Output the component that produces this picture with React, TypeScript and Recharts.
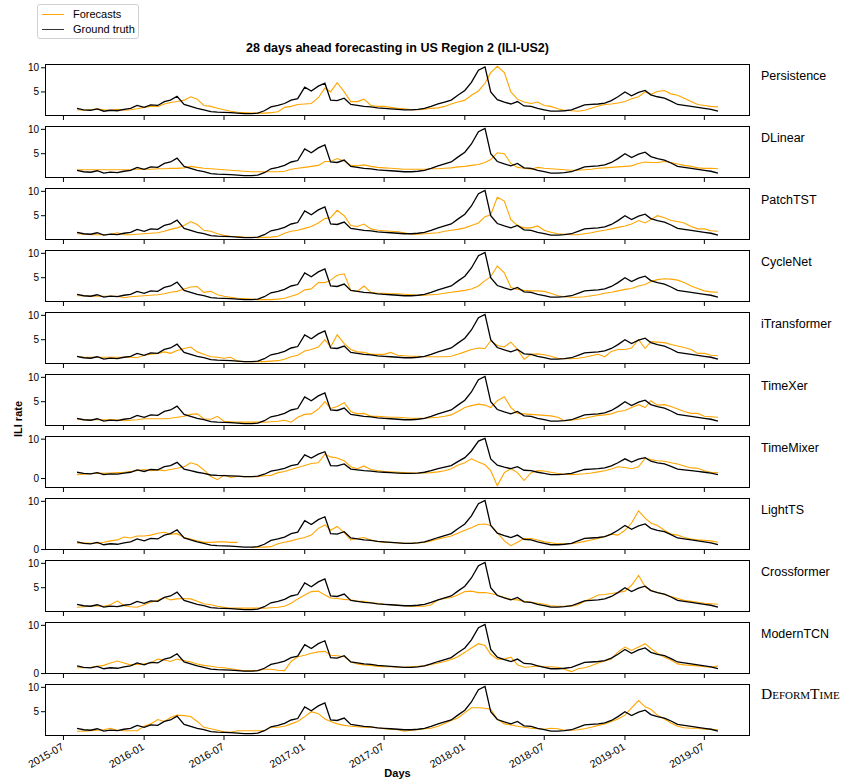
import { LineChart, Line, XAxis, YAxis } from 'recharts';

// semi-monthly sampling dates
const dates = [
  '2015-08-01', '2015-08-16', '2015-09-01', '2015-09-16', '2015-10-01', '2015-10-16', '2015-11-01', '2015-11-16', '2015-12-01', '2015-12-16',
  '2016-01-01', '2016-01-16', '2016-02-01', '2016-02-16', '2016-03-01', '2016-03-16', '2016-04-01', '2016-04-16', '2016-05-01', '2016-05-16',
  '2016-06-01', '2016-06-16', '2016-07-01', '2016-07-16', '2016-08-01', '2016-08-16', '2016-09-01', '2016-09-16', '2016-10-01', '2016-10-16',
  '2016-11-01', '2016-11-16', '2016-12-01', '2016-12-16', '2017-01-01', '2017-01-16', '2017-02-01', '2017-02-16', '2017-03-01', '2017-03-16',
  '2017-04-01', '2017-04-16', '2017-05-01', '2017-05-16', '2017-06-01', '2017-06-16', '2017-07-01', '2017-07-16', '2017-08-01', '2017-08-16',
  '2017-09-01', '2017-09-16', '2017-10-01', '2017-10-16', '2017-11-01', '2017-11-16', '2017-12-01', '2017-12-16', '2018-01-01', '2018-01-16',
  '2018-02-01', '2018-02-16', '2018-03-01', '2018-03-16', '2018-04-01', '2018-04-16', '2018-05-01', '2018-05-16', '2018-06-01', '2018-06-16',
  '2018-07-01', '2018-07-16', '2018-08-01', '2018-08-16', '2018-09-01', '2018-09-16', '2018-10-01', '2018-10-16', '2018-11-01', '2018-11-16',
  '2018-12-01', '2018-12-16', '2019-01-01', '2019-01-16', '2019-02-01', '2019-02-16', '2019-03-01', '2019-03-16', '2019-04-01', '2019-04-16',
  '2019-05-01', '2019-05-16', '2019-06-01', '2019-06-16', '2019-07-01', '2019-07-16', '2019-08-01',
];

const groundTruth = [
  1.6, 1.3, 1.2, 1.5, 1.0, 1.2, 1.1, 1.4, 1.6, 2.2,
  1.8, 2.3, 2.2, 3.0, 3.3, 4.1, 2.4, 2.0, 1.6, 1.3,
  0.9, 0.8, 0.75, 0.7, 0.6, 0.5, 0.5, 0.6, 1.1, 1.9,
  2.2, 2.6, 3.3, 3.6, 6.0, 5.2, 6.2, 6.8, 3.3, 3.2,
  3.7, 2.4, 2.2, 2.0, 1.9, 1.7, 1.6, 1.5, 1.4, 1.3,
  1.3, 1.4, 1.6, 2.0, 2.5, 2.9, 3.3, 4.3, 5.3, 7.0,
  9.5, 10.2, 5.0, 3.4, 2.9, 2.5, 3.0, 2.1, 2.0, 1.6,
  1.3, 1.0, 1.0, 1.1, 1.3, 1.8, 2.3, 2.4, 2.5, 2.7,
  3.2, 4.0, 5.0, 4.2, 4.9, 5.3, 4.4, 4.0, 3.7, 3.1,
  2.4, 2.2, 2.0, 1.8, 1.6, 1.4, 1.0,
];

const persistence = [
  1.3, 1.2, 1.3, 1.5, 1.3, 1.2, 1.4, 1.2, 1.3, 1.5,
  1.8, 2.0, 2.0, 2.5, 2.8, 3.0, 3.3, 4.0, 3.5, 2.2,
  2.0, 1.6, 1.3, 1.0, 0.8, 0.7, 0.6, 0.6, 0.6, 0.7,
  0.9, 1.8, 2.0, 2.4, 2.5, 2.6, 3.8, 5.8, 5.0, 6.9,
  5.0, 3.0, 3.0, 3.5, 2.2, 2.0, 2.0, 1.8, 1.6, 1.5,
  1.3, 1.3, 1.4, 1.6, 1.7, 2.0, 2.5, 2.9, 3.3, 4.3,
  5.2, 6.8, 9.0, 10.3, 9.0, 5.0, 3.5, 2.9, 2.6, 2.9,
  2.2, 2.0, 1.5, 1.2, 1.1, 1.0, 1.2, 1.6, 2.1, 2.4,
  2.5, 2.7, 3.0, 3.6, 4.0, 5.0, 4.5, 5.1, 5.3, 4.6,
  4.3, 3.7, 3.0, 2.4, 2.2, 2.0, 1.9,
];

const dlinear = [
  1.7, 1.7, 1.7, 1.7, 1.7, 1.7, 1.7, 1.7, 1.7, 1.8,
  1.8, 1.8, 1.9, 1.9, 2.0, 2.0, 2.1, 2.4, 2.2, 2.0,
  1.9, 1.8, 1.7, 1.6, 1.5, 1.4, 1.3, 1.3, 1.3, 1.3,
  1.3, 1.4, 1.8, 2.0, 2.2, 2.4, 2.6, 3.4, 3.4, 4.0,
  3.5, 2.6, 2.5, 2.7, 2.4, 2.2, 2.1, 2.0, 1.9, 1.8,
  1.8, 1.8, 1.8, 1.9, 1.9, 2.0, 2.1, 2.3, 2.4, 2.6,
  2.8, 3.2, 3.8, 5.2, 5.0, 3.0, 2.2, 2.0, 1.8, 2.2,
  2.0, 1.9, 1.8, 1.7, 1.6, 1.6, 1.7, 1.8, 2.0, 2.1,
  2.2, 2.3, 2.4, 2.5, 3.0, 3.3, 3.2, 3.2, 3.4, 3.2,
  2.9, 2.6, 2.4, 2.1, 2.0, 2.0, 1.9,
];

const patchtst = [
  1.3, 1.2, 1.1, 1.1, 1.1, 1.2, 1.5, 1.1, 1.1, 1.2,
  1.3, 1.4, 1.5, 1.8, 2.2, 2.5, 3.0, 3.8, 3.2, 2.0,
  1.8, 1.3, 1.0, 0.8, 0.7, 0.6, 0.55, 0.5, 0.55, 0.6,
  0.8, 1.4, 1.8, 2.0, 2.4, 2.8, 3.5, 4.4, 4.6, 6.1,
  5.0, 3.0, 2.8, 3.3, 2.3, 2.0, 1.9, 1.8, 1.7, 1.5,
  1.2, 1.2, 1.3, 1.4, 1.5, 1.8, 2.0, 2.2, 2.5, 3.0,
  3.5, 4.8, 5.2, 8.8, 8.0, 4.2, 3.0, 2.5, 2.5, 2.9,
  2.0, 1.6, 1.3, 1.2, 1.1, 1.1, 1.3, 1.5, 1.8, 2.0,
  2.3, 2.6, 2.9, 3.3, 4.0, 3.5, 4.2, 5.0, 4.6, 4.0,
  3.8, 3.5, 2.8, 2.3, 2.3, 1.9, 1.8,
];

const cyclenet = [
  1.3, 1.3, 1.2, 1.2, 1.2, 1.2, 1.2, 0.9, 1.1, 1.2,
  1.3, 1.4, 1.5, 1.7, 2.0, 2.2, 2.7, 3.1, 3.2, 2.0,
  2.2, 1.5, 1.2, 1.0, 0.8, 0.7, 0.6, 0.5, 0.5, 0.5,
  0.6, 0.8, 1.2, 1.6, 2.5, 2.7, 4.0, 4.0, 4.5, 5.5,
  5.8, 2.4, 2.2, 3.3, 2.0, 1.8, 1.8, 1.7, 1.7, 1.6,
  1.5, 1.4, 1.4, 1.5, 1.6, 1.8, 2.0, 2.2, 2.4, 2.7,
  3.3, 4.4, 5.2, 7.4, 6.0, 3.0, 2.6, 2.4, 2.3, 2.3,
  2.2, 1.8, 1.3, 1.1, 1.0, 1.0, 1.1, 1.3, 1.5, 1.8,
  2.0, 2.3, 2.6, 2.8, 3.3, 3.6, 4.2, 4.6, 4.8, 4.7,
  4.5, 4.0, 3.3, 2.8, 2.3, 2.1, 2.0,
];

const itransformer = [
  1.5, 1.4, 1.4, 1.4, 1.4, 1.4, 1.4, 1.4, 1.4, 1.3,
  1.8, 2.0, 2.2, 2.5, 2.2, 2.8, 3.2, 3.5, 2.5, 2.0,
  1.5, 1.4, 1.2, 1.4, 0.6, 0.5, 0.5, 0.5, 0.5, 0.6,
  0.7, 1.0, 1.5, 1.8, 2.7, 3.0, 3.5, 5.0, 3.5, 6.0,
  4.2, 3.0, 2.5, 2.4, 2.0, 2.0, 2.0, 2.4, 1.8, 1.7,
  1.6, 1.6, 1.5, 1.5, 1.5, 1.5, 1.6, 2.0, 2.5, 3.0,
  3.3, 3.2, 4.8, 3.8, 3.5, 4.5, 3.0, 1.0, 2.0, 2.1,
  1.9, 1.6, 1.2, 1.1, 1.1, 1.2, 1.4, 1.7, 2.0, 1.5,
  2.6, 3.0, 3.0, 3.3, 5.0, 3.2, 4.6, 4.5, 4.4, 4.0,
  3.7, 3.4, 3.0, 2.2, 2.2, 1.8, 1.7,
];

const timexer = [
  1.4, 1.3, 1.3, 1.3, 1.3, 1.3, 1.3, 1.1, 1.2, 1.3,
  1.5, 1.5, 1.5, 1.5, 1.6, 1.8, 2.0, 2.4, 2.5, 1.5,
  1.4, 2.0, 1.0, 0.9, 0.8, 0.8, 0.8, 0.8, 0.8, 0.9,
  1.0, 1.2, 0.8, 1.8, 2.4, 2.5, 3.5, 5.0, 3.6, 4.0,
  4.8, 3.0, 2.5, 2.6, 2.0, 2.0, 1.9, 1.8, 1.8, 1.7,
  1.6, 1.6, 1.6, 1.7, 1.8, 2.0, 2.3, 3.0, 3.8, 4.2,
  4.5, 4.3, 3.8, 5.2, 6.0, 3.8, 2.6, 2.5, 2.4, 2.3,
  2.2, 2.1, 1.8, 1.1, 1.2, 1.4, 1.6, 1.9, 2.2, 2.3,
  2.5, 3.0, 3.2, 3.8, 4.4, 3.8, 5.2, 4.3, 4.4, 4.0,
  3.5, 3.0, 2.6, 2.6, 2.0, 1.9, 1.8,
];

const timemixer = [
  1.0, 1.1, 1.2, 1.4, 1.3, 1.4, 1.5, 1.6, 1.8, 2.0,
  2.3, 2.0, 2.2, 2.0, 2.3, 2.6, 3.0, 4.0, 3.5, 2.2,
  0.5, -0.3, 0.9, 0.3, 0.6, 0.5, 0.5, 0.5, 0.7, 0.8,
  1.5, 1.8, 2.3, 2.8, 3.3, 3.8, 4.0, 6.2, 5.5, 5.2,
  4.5, 3.0, 2.5, 3.2, 2.3, 2.0, 1.8, 1.7, 1.6, 1.5,
  1.4, 1.4, 1.4, 1.5, 1.7, 2.0, 2.5, 3.4, 4.0, 5.0,
  4.2, 3.5, 2.0, -1.8, 1.5, 2.5, 1.5, -0.5, 1.5, 2.0,
  1.9, 1.6, 1.3, 1.1, 1.0, 1.1, 1.2, 1.4, 1.7, 2.0,
  2.4, 3.0, 2.8, 2.5, 3.0, 5.2, 4.8, 4.5, 4.4, 4.0,
  3.7, 3.2, 2.7, 2.6, 2.0, 1.6, 1.5,
];

const lightts = [
  1.3, 1.4, 1.3, 1.3, 1.5, 1.8, 2.0, 2.6, 2.4, 2.8,
  2.8, 3.0, 3.4, 3.6, 3.2, 3.3, 2.5, 2.2, 1.8, 1.5,
  1.5, 1.6, 1.6, 1.5, 1.5, null, 0.4, 0.5, 0.5, 0.6,
  1.2, 1.5, 1.8, 2.2, 2.5, 3.0, 4.4, 5.1, 4.0, 4.8,
  3.5, 2.0, 2.3, 2.5, 2.0, 1.7, 1.5, 1.5, 1.4, 1.3,
  1.3, 1.4, 1.5, 1.8, 2.2, 2.5, 2.8, 3.4, 4.0, 4.5,
  5.2, 5.3, 5.0, 3.5, 1.8, 0.8, 1.5, 2.3, 2.3, 2.0,
  1.6, 1.4, 1.2, 1.2, 1.2, 1.4, 1.7, 2.0, 2.3, 2.7,
  3.2, 3.0, 4.0, 5.5, 8.0, 6.5, 5.5, 5.0, 4.0, 3.2,
  3.0, 2.5, 2.2, 2.0, 1.9, 1.8, 1.5,
];

const crossformer = [
  1.0, 1.1, 1.2, 1.3, 1.2, 1.5, 2.3, 1.3, 1.1, 1.0,
  1.5, 2.0, 2.4, 3.0, 2.5, 2.7, 2.8, 2.7, 2.2, 1.7,
  1.5, 1.2, 1.0, 0.8, 0.8, 0.8, 0.8, 0.8, 0.8, 0.9,
  1.0, 1.2, 1.8, 2.7, 3.5, 4.2, 4.3, 3.5, 2.9, 2.8,
  2.6, 2.5, 2.2, 2.2, 1.9, 1.8, 1.6, 1.5, 1.4, 1.3,
  1.2, 1.2, 1.2, 1.5, 2.5, 2.8, 3.0, 3.5, 4.2, 4.3,
  4.0, 4.0, 3.8, 3.5, 3.0, 2.6, 2.5, 2.2, 2.0, 1.8,
  1.6, 1.3, 1.2, 1.2, 1.2, 1.5, 2.2, 2.8, 3.5, 3.6,
  3.8, 4.0, 4.3, 5.5, 7.5, 5.2, 4.5, 4.0, 3.6, 3.2,
  2.8, 2.4, 2.2, 2.0, 1.8, 1.7, 1.6,
];

const moderntcn = [
  1.2, 1.2, 1.3, 1.5, 1.7, 2.2, 2.6, 2.2, 1.8, 1.9,
  2.0, 2.2, 3.0, 2.8, 2.5, 3.0, 2.7, 2.4, 2.0, 1.7,
  1.5, 1.3, 1.2, 1.0, 0.8, 0.6, 0.6, 0.6, 0.9, 0.9,
  0.7, 0.6, 2.5, 3.5, 3.8, 4.2, 4.5, 4.6, 3.8, 3.7,
  3.5, 2.4, 2.0, 1.8, 1.7, 1.5, 1.4, 1.4, 1.3, 1.3,
  1.4, 1.5, 1.6, 1.9, 2.2, 2.5, 2.9, 3.5, 4.4, 5.3,
  6.2, 5.8, 4.0, 3.0, 3.0, 3.4, 1.8, 1.3, 1.4, 1.6,
  1.4, 1.4, 1.3, 0.9, 0.4, 1.0, 1.2, 1.6, 2.2, 2.6,
  3.0, 4.5, 5.5, 4.8, 5.5, 6.2, 5.2, 4.2, 3.4, 2.8,
  2.0, 1.8, 1.7, 1.6, 1.4, 1.3, 1.6,
];

const deformtime = [
  1.0, 1.0, 1.1, 1.2, 1.3, 1.6, 1.2, 1.1, 1.1, 1.1,
  2.0, 2.5, 3.4, 3.0, 3.8, 4.3, 4.2, 4.0, 3.0, 1.8,
  1.5, 1.2, 0.9, 0.8, 1.1, 1.1, 1.1, 1.1, 1.1, 1.8,
  1.8, 2.0, 2.5, 3.0, 4.0, 5.0, 4.6, 3.5, 3.0, 2.5,
  2.2, 2.0, 1.9, 1.8, 1.8, 1.7, 1.5, 1.4, 1.3, 1.0,
  1.2, 1.3, 1.5, 1.6, 2.0, 2.6, 3.2, 3.7, 4.8, 5.8,
  5.8, 5.7, 5.5, 3.5, 2.5, 2.3, 2.0, 1.8, 1.6, 1.5,
  1.4, 1.6, 1.5, 1.2, 1.2, 1.3, 1.5, 1.8, 2.2, 2.5,
  3.0, 3.5, 4.3, 5.8, 7.3, 6.0, 5.5, 4.3, 3.5, 2.7,
  2.0, 1.7, 1.6, 1.6, 1.4, 1.4, 1.3,
];

const tickDates = ['2015-07-01', '2016-01-01', '2016-07-01', '2017-01-01', '2017-07-01', '2018-01-01', '2018-07-01', '2019-01-01', '2019-07-01'];

const models = [
  { name: 'Persistence', values: persistence },
  { name: 'DLinear', values: dlinear },
  { name: 'PatchTST', values: patchtst },
  { name: 'CycleNet', values: cyclenet },
  { name: 'iTransformer', values: itransformer },
  { name: 'TimeXer', values: timexer },
  { name: 'TimeMixer', values: timemixer },
  { name: 'LightTS', values: lightts },
  { name: 'Crossformer', values: crossformer },
  { name: 'ModernTCN', values: moderntcn },
  { name: 'DeformTime', values: deformtime },
];

const W = 844;
const PLOT_LEFT = 45;
const PLOT_RIGHT = 750;
const PANEL_H = 52;
const FIRST_TOP = 64;
const PITCH = 62;
const Y_AXIS_W = 30;
const PAD_TOP = 8;
const SANS = '"Liberation Sans", Arial, sans-serif';

const times = dates.map((d) => Date.parse(d));
const span = times[times.length - 1] - times[0];
const xDomain = [times[0] - span * 0.05, times[times.length - 1] + span * 0.05];
const xTicks = tickDates.map((d) => Date.parse(d));
const fmtMonth = (t: number) => new Date(t).toISOString().slice(0, 7);

function yRange(values: (number | null)[]) {
  const all = [...groundTruth, ...values].filter((v): v is number => v != null);
  const lo = Math.min(...all);
  const hi = Math.max(...all);
  const pad = (hi - lo) * 0.05;
  return [lo - pad, hi + pad];
}

const NoTick = () => <g />;

function DateTick(props: any) {
  const { x, y, payload } = props;
  return (
    <g transform={`translate(${x - 3},${y})`}>
      <text x={0} y={0} dy={8} textAnchor="end" fontSize={10.5} fill="#000" transform="rotate(-30)">
        {fmtMonth(payload.value)}
      </text>
    </g>
  );
}

function Panel({ name, values, index, last }: { name: string; values: (number | null)[]; index: number; last: boolean }) {
  const top = FIRST_TOP + index * PITCH;
  const rows = times.map((t, i) => ({ t, fc: values[i], gt: groundTruth[i] }));
  const [lo, hi] = yRange(values);
  const yTicks = lo < 0 ? [0, 10] : [5, 10];
  const axisH = last ? 44 : 6;
  const deform = name === 'DeformTime';

  return (
    <>
      <div style={{ position: 'absolute', left: 0, top: top - PAD_TOP }}>
        <LineChart
          width={W}
          height={PAD_TOP + PANEL_H + axisH}
          data={rows}
          margin={{ top: PAD_TOP, right: W - PLOT_RIGHT, bottom: 0, left: PLOT_LEFT - Y_AXIS_W }}
        >
          <XAxis
            dataKey="t"
            type="number"
            domain={xDomain}
            allowDataOverflow
            ticks={xTicks}
            interval={0}
            height={axisH}
            axisLine={false}
            tickSize={4}
            tickLine={{ stroke: '#000' }}
            tick={last ? DateTick : NoTick}
          />
          <YAxis
            type="number"
            domain={[lo, hi]}
            allowDataOverflow
            ticks={yTicks}
            interval={0}
            width={Y_AXIS_W}
            axisLine={false}
            tickSize={4}
            tickMargin={2}
            tickLine={{ stroke: '#000' }}
            tick={{ fontSize: 10, fill: '#000' }}
          />
          <Line dataKey="fc" type="linear" stroke="#FFA500" strokeWidth={1.1} dot={false} isAnimationActive={false} />
          <Line dataKey="gt" type="linear" stroke="#000" strokeWidth={1.3} dot={false} isAnimationActive={false} />
        </LineChart>
      </div>
      <div
        style={{
          position: 'absolute',
          left: PLOT_LEFT,
          top,
          width: PLOT_RIGHT - PLOT_LEFT,
          height: PANEL_H,
          border: '1px solid #000',
          boxSizing: 'border-box',
          pointerEvents: 'none',
        }}
      />
      <div
        style={{
          position: 'absolute',
          left: 761,
          top: deform ? top + 2 : top + 4,
          fontSize: deform ? 15.5 : 12.5,
          lineHeight: '16px',
          fontFamily: deform ? '"Liberation Serif", "Times New Roman", serif' : SANS,
          fontVariant: deform ? 'small-caps' : 'normal',
          whiteSpace: 'nowrap',
        }}
      >
        {name}
      </div>
    </>
  );
}

export default function App() {
  return (
    <div style={{ position: 'absolute', left: 0, top: 0, width: W, height: 784, background: '#fff', fontFamily: SANS }}>
      {/* legend */}
      <div
        style={{
          position: 'absolute',
          left: 37,
          top: 4,
          width: 102,
          height: 35,
          border: '1px solid #d0d0d0',
          borderRadius: 3,
          boxSizing: 'border-box',
          fontSize: 11,
        }}
      >
        <div style={{ position: 'absolute', left: 4, top: 9, width: 22, borderTop: '1.3px solid #FFA500' }} />
        <div style={{ position: 'absolute', left: 35, top: 2, lineHeight: '14px' }}>Forecasts</div>
        <div style={{ position: 'absolute', left: 4, top: 24, width: 22, borderTop: '1.5px solid #333' }} />
        <div style={{ position: 'absolute', left: 35, top: 17, lineHeight: '14px' }}>Ground truth</div>
      </div>

      <div
        style={{
          position: 'absolute',
          left: PLOT_LEFT,
          width: PLOT_RIGHT - PLOT_LEFT,
          top: 40,
          textAlign: 'center',
          fontWeight: 'bold',
          fontSize: 12.5,
          lineHeight: '16px',
        }}
      >
        28 days ahead forecasting in US Region 2 (ILI-US2)
      </div>

      {models.map((m, i) => (
        <Panel key={m.name} name={m.name} values={m.values} index={i} last={i === models.length - 1} />
      ))}

      <div
        style={{
          position: 'absolute',
          left: 18,
          top: 419,
          transform: 'translate(-50%, -50%) rotate(-90deg)',
          fontWeight: 'bold',
          fontSize: 11,
          whiteSpace: 'nowrap',
        }}
      >
        ILI rate
      </div>

      <div
        style={{
          position: 'absolute',
          left: PLOT_LEFT,
          width: PLOT_RIGHT - PLOT_LEFT,
          top: 765,
          textAlign: 'center',
          fontWeight: 'bold',
          fontSize: 11,
          lineHeight: '16px',
        }}
      >
        Days
      </div>
    </div>
  );
}
